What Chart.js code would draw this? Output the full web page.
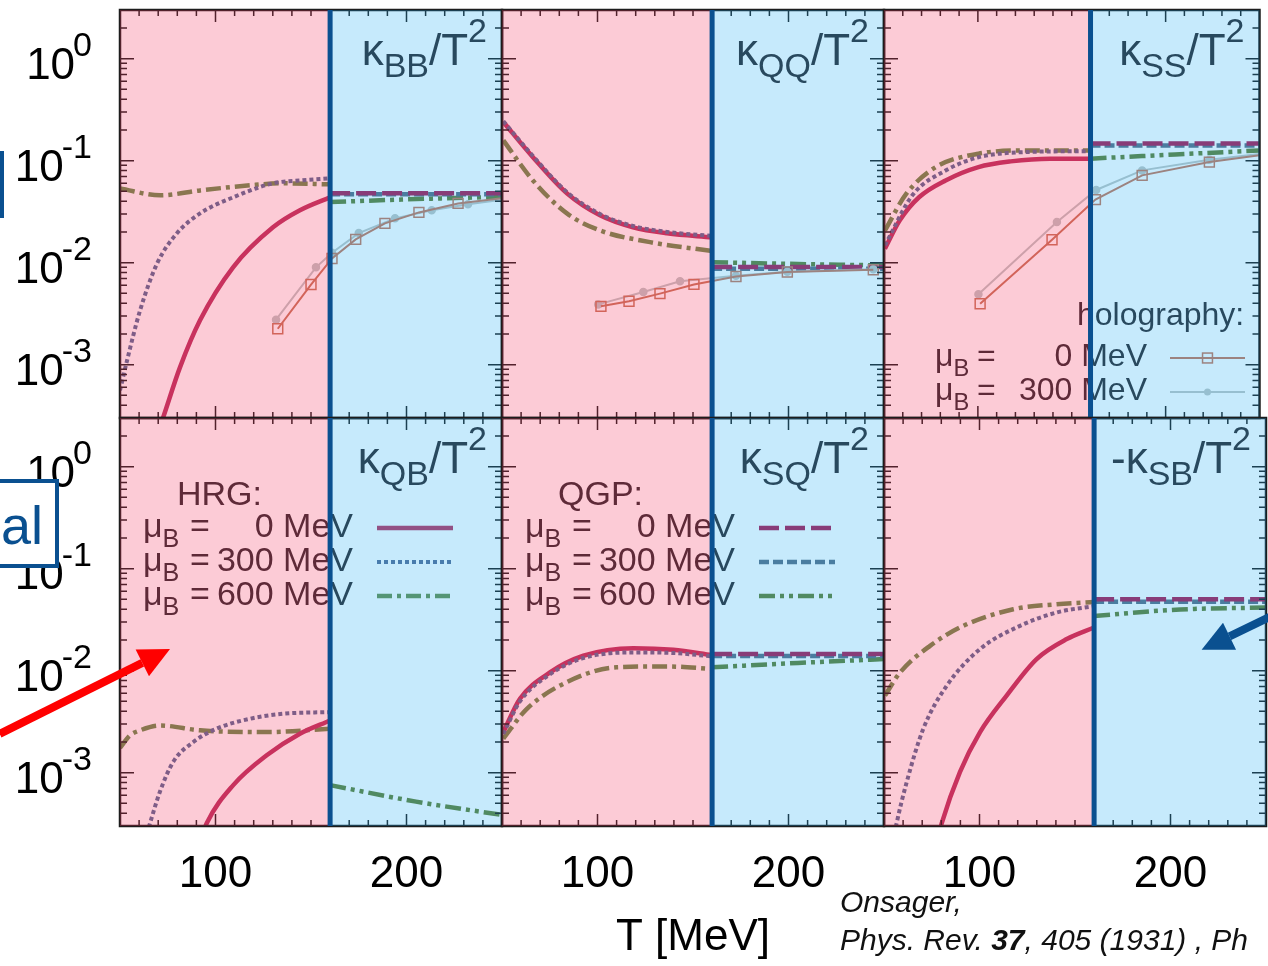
<!DOCTYPE html>
<html>
<head>
<meta charset="utf-8">
<script src="https://cdn.jsdelivr.net/npm/chart.js@4.4.0/dist/chart.umd.min.js"></script>
<style>
  body { margin: 0; background: #fff; }
  #wrap { position: relative; width: 1268px; height: 966px; overflow: hidden; }
  #wrap canvas { position: absolute; left: 0; top: 0; }
</style>
</head>
<body>
<div id="wrap"></div>
<script>
// axis ranges: T in MeV, susceptibilities on a log axis
const T_MIN = 50, T_MAX = 250, T_C = 160;
const Y_MIN = 3e-4, Y_MAX = 3;
const xTickLabels = [100, 200];
const yTickExps = [0, -1, -2, -3];

// kappa_BB / T^2
const bbHrg0 = [[70, 2.2e-4], [72.5, 3.0e-4], [81.4, 9.4e-4], [91.9, 2.72e-3], [109.2, 9.0e-3], [130.1, 0.0222], [144.2, 0.0326], [160, 0.0437]];
const bbHrg300 = [[50, 5.6e-4], [53.7, 1.1e-3], [60.5, 3.4e-3], [69.4, 9.8e-3], [79.8, 0.0194], [91.9, 0.0304], [109.2, 0.0437], [130.1, 0.060], [144.2, 0.064], [160, 0.067]];
const bbHrg600 = [[50, 0.0535], [71, 0.0457], [92, 0.0511], [118, 0.0573], [135, 0.060], [160, 0.0586]];
const bbQgp0 = [[160, 0.0479], [250, 0.0479]];
const bbQgp300 = [[160, 0.0468], [250, 0.0468]];
const bbQgp600 = [[160, 0.0393], [205, 0.042], [250, 0.0442]];
const bbHolo0 = [[132.6, 2.25e-3], [150, 6.1e-3], [161, 0.011], [173.4, 0.0169], [188.7, 0.0243], [206.5, 0.0311], [227, 0.0381], [250, 0.0427]];
const bbHolo300 = [[131.7, 2.76e-3], [152.6, 9.0e-3], [161, 0.0125], [175, 0.0195], [194, 0.0272], [213.2, 0.0326], [232.2, 0.0373], [250, 0.0415]];

// kappa_QQ / T^2
const qqHrg0 = [[50.7, 0.239], [66.2, 0.108], [84, 0.0478], [101.3, 0.0291], [118.6, 0.0222], [136.4, 0.0194], [160, 0.0177]];
const qqHrg300 = [[50.7, 0.243], [66.2, 0.111], [84, 0.0492], [101.3, 0.0300], [118.6, 0.0229], [136.4, 0.0200], [160, 0.0183]];
const qqHrg600 = [[50.7, 0.158], [66.2, 0.064], [84, 0.0304], [101.3, 0.0207], [127.5, 0.0159], [160, 0.013]];
const qqQgp0 = [[160, 9.06e-3], [250, 9.06e-3]];
const qqQgp300 = [[160, 8.7e-3], [250, 8.7e-3]];
const qqQgp600 = [[160, 0.0101], [205, 0.0097], [250, 0.0094]];
const qqHolo0 = [[101.8, 3.73e-3], [116.5, 4.18e-3], [132.7, 4.97e-3], [150.5, 6.12e-3], [172.5, 7.33e-3], [199.4, 8.09e-3], [244.4, 8.53e-3]];
const qqHolo300 = [[100.4, 3.9e-3], [124, 5.15e-3], [143.2, 6.56e-3], [172.5, 7.45e-3], [199.4, 8.15e-3], [244.4, 8.6e-3]];

// kappa_SS / T^2
const ssHrg0 = [[50.5, 0.0137], [58.4, 0.026], [68.8, 0.044], [82.8, 0.064], [100.3, 0.0865], [117.5, 0.0984], [138.5, 0.1047], [160, 0.1047]];
const ssHrg300 = [[50.5, 0.0148], [65.2, 0.046], [82.8, 0.080], [100.3, 0.108], [126.4, 0.1216], [160, 0.124]];
const ssHrg600 = [[50.5, 0.0207], [61.9, 0.0474], [77.6, 0.0865], [100.3, 0.117], [126.4, 0.126], [160, 0.126]];
const ssQgp0 = [[160, 0.147], [250, 0.147]];
const ssQgp300 = [[160, 0.141], [250, 0.141]];
const ssQgp600 = [[160, 0.1047], [205, 0.115], [250, 0.126]];
const ssHolo0 = [[101.2, 3.96e-3], [139.5, 0.0168], [162.6, 0.0415], [187.5, 0.0718], [223.3, 0.0968], [250, 0.113]];
const ssHolo300 = [[100.3, 4.89e-3], [142.1, 0.0251], [163, 0.0516], [187.5, 0.0803], [223.3, 0.102], [250, 0.116]];

// kappa_QB / T^2
const qbHrg0 = [[93, 2.4e-4], [95.4, 3.19e-4], [109.3, 7.55e-4], [126.8, 1.48e-3], [144.2, 2.41e-3], [160, 3.25e-3]];
const qbHrg300 = [[64, 2.5e-4], [65.7, 3.19e-4], [70.9, 6.5e-4], [77.9, 1.28e-3], [88.4, 2.0e-3], [100.6, 2.7e-3], [118.1, 3.38e-3], [135.5, 3.78e-3], [160, 3.93e-3]];
const qbHrg600 = [[50, 1.75e-3], [55, 2.3e-3], [60.5, 2.6e-3], [70.9, 2.9e-3], [91.9, 2.6e-3], [126.8, 2.5e-3], [160, 2.7e-3]];
const qbQgp600 = [[160, 7.55e-4], [205, 5.2e-4], [250, 3.85e-4]];

// kappa_SQ / T^2
const sqHrg0 = [[50.7, 2.5e-3], [59.4, 5.3e-3], [75.1, 9.6e-3], [92.6, 0.014], [118.8, 0.0166], [139.7, 0.016], [160, 0.0142]];
const sqHrg300 = [[50.7, 2.4e-3], [59.4, 5.0e-3], [75.1, 9.2e-3], [92.6, 0.0133], [118.8, 0.0151], [139.7, 0.0149], [160, 0.0138]];
const sqHrg600 = [[50.7, 2.16e-3], [62.9, 4.2e-3], [83.8, 7.7e-3], [110, 0.0108], [136.2, 0.011], [160, 0.0104]];
const sqQgp0 = [[160, 0.0146], [250, 0.0146]];
const sqQgp300 = [[160, 0.0139], [250, 0.0139]];
const sqQgp600 = [[160, 0.0108], [205, 0.0119], [250, 0.013]];

// -kappa_SB / T^2
const sbHrg0 = [[78.5, 2.4e-4], [80.2, 3.19e-4], [89.8, 1.02e-3], [100.3, 2.5e-3], [114.2, 5.7e-3], [129.9, 0.013], [145.7, 0.0204], [160, 0.0265]];
const sbHrg300 = [[55.5, 2.5e-4], [56.6, 3.19e-4], [61.9, 8.1e-4], [70.6, 2.7e-3], [82.8, 7.1e-3], [100.3, 0.0163], [121.2, 0.0275], [140.4, 0.0372], [160, 0.043]];
const sbHrg600 = [[50.5, 5.7e-3], [58.4, 9.6e-3], [74.1, 0.0175], [91.5, 0.0275], [117.7, 0.040], [140.4, 0.0448], [160, 0.0471]];
const sbQgp0 = [[160, 0.050], [250, 0.050]];
const sbQgp300 = [[160, 0.0475], [250, 0.0475]];
const sbQgp600 = [[160, 0.0344], [205, 0.0398], [250, 0.0416]];

const FONT = '"Liberation Sans", Arial, Helvetica, sans-serif';
const INK = 'rgb(45,40,45)';
const FRAME = 'rgb(28,28,28)';
// translucent phase bands, laid over curves and text
const HADRON_BAND = 'rgba(243,47,91,0.25)';
const PLASMA_BAND = 'rgba(27,171,243,0.25)';
const TC_BLUE = '#0a5090';

const STYLE = {
  hrg0:    { color: 'rgb(186,51,95)',  width: 4.5, dash: [] },
  hrg300:  { color: 'rgb(87,108,150)', width: 4,   dash: [4, 3] },
  hrg600:  { color: 'rgb(103,142,76)', width: 4.5, dash: [15, 5, 4, 5] },
  qgp0:    { color: 'rgb(172,23,79)',  width: 4.5, dash: [20, 6] },
  qgp300:  { color: 'rgb(90,110,132)', width: 4.5, dash: [10, 4] },
  qgp600:  { color: 'rgb(98,127,50)',  width: 4.5, dash: [16, 5, 4, 5, 4, 5] },
  holo0:   { color: 'rgb(199,118,90)', width: 2, point: 'rect', radius: 7 },
  holo300: { color: 'rgb(192,198,196)', width: 2, point: 'circle', radius: 3.5 },
};
// first entry ends up on top
const DRAW_ORDER = ['holo0', 'holo300', 'hrg300', 'hrg0', 'hrg600', 'qgp0', 'qgp300', 'qgp600'];

const PANELS = [
  { sign: '', sub: 'BB', left: 120, top: 10, right: 502, bottom: 418, yLabels: true,
    series: { hrg0: bbHrg0, hrg300: bbHrg300, hrg600: bbHrg600, qgp0: bbQgp0, qgp300: bbQgp300, qgp600: bbQgp600, holo0: bbHolo0, holo300: bbHolo300 },
    extra: leftBoxEdge },
  { sign: '', sub: 'QQ', left: 502, top: 10, right: 884, bottom: 418,
    series: { hrg0: qqHrg0, hrg300: qqHrg300, hrg600: qqHrg600, qgp0: qqQgp0, qgp300: qqQgp300, qgp600: qqQgp600, holo0: qqHolo0, holo300: qqHolo300 } },
  { sign: '', sub: 'SS', left: 884, top: 10, right: 1266, bottom: 418,
    series: { hrg0: ssHrg0, hrg300: ssHrg300, hrg600: ssHrg600, qgp0: ssQgp0, qgp300: ssQgp300, qgp600: ssQgp600, holo0: ssHolo0, holo300: ssHolo300 },
    legend: holoLegend },
  { sign: '', sub: 'QB', left: 120, top: 418, right: 502, bottom: 826, yLabels: true, xLabels: true,
    series: { hrg0: qbHrg0, hrg300: qbHrg300, hrg600: qbHrg600, qgp600: qbQgp600 },
    legend: (ctx, a) => phaseLegend(ctx, a, 'HRG:', 57, ['hrg0', 'hrg300', 'hrg600']),
    extra: redArrowAndBox },
  { sign: '', sub: 'SQ', left: 502, top: 418, right: 884, bottom: 826, xLabels: true,
    series: { hrg0: sqHrg0, hrg300: sqHrg300, hrg600: sqHrg600, qgp0: sqQgp0, qgp300: sqQgp300, qgp600: sqQgp600 },
    legend: (ctx, a) => phaseLegend(ctx, a, 'QGP:', 56, ['qgp0', 'qgp300', 'qgp600']),
    extra: axisTitle },
  { sign: '-', sub: 'SB', left: 884, top: 418, right: 1266, bottom: 826, xLabels: true,
    series: { hrg0: sbHrg0, hrg300: sbHrg300, hrg600: sbHrg600, qgp0: sbQgp0, qgp300: sbQgp300, qgp600: sbQgp600 },
    extra: blueArrowAndCitation },
];

const MU_ROWS = ['0 MeV', '300 MeV', '600 MeV'];

// text made of runs: [text, size, dy, style]
function rich(ctx, parts, x, y, align) {
  let w = 0;
  for (const [t, s, , st] of parts) { ctx.font = `${st || ''} ${s}px ${FONT}`; w += ctx.measureText(t).width; }
  let cx = align === 'right' ? x - w : align === 'center' ? x - w / 2 : x;
  ctx.textAlign = 'left';
  ctx.textBaseline = 'alphabetic';
  for (const [t, s, dy, st] of parts) {
    ctx.font = `${st || ''} ${s}px ${FONT}`;
    ctx.fillText(t, cx, y + (dy || 0));
    cx += ctx.measureText(t).width;
  }
}

function strokeSample(ctx, key, x0, x1, y) {
  const s = STYLE[key];
  ctx.save();
  ctx.strokeStyle = s.color;
  ctx.lineWidth = s.width;
  ctx.lineCap = 'butt';
  ctx.setLineDash(s.dash || []);
  ctx.beginPath(); ctx.moveTo(x0, y); ctx.lineTo(x1, y); ctx.stroke();
  ctx.setLineDash([]);
  if (s.point) {
    const xm = (x0 + x1) / 2;
    ctx.lineWidth = 1.5;
    if (s.point === 'rect') {
      const h = s.radius * Math.SQRT1_2;
      ctx.strokeRect(xm - h, y - h, 2 * h, 2 * h);
    } else {
      ctx.fillStyle = s.color;
      ctx.beginPath(); ctx.arc(xm, y, s.radius, 0, Math.PI * 2); ctx.fill();
    }
  }
  ctx.restore();
}

function muRow(ctx, a, dxMu, dxEq, dxVal, y, value, size) {
  ctx.fillStyle = INK;
  rich(ctx, [['μ', size, 0], ['B', size * 0.74, 10]], a.left + dxMu, y);
  rich(ctx, [['=', size, 0]], a.left + dxEq, y);
  rich(ctx, [[value, size, 0]], a.left + dxVal, y, 'right');
}

function phaseLegend(ctx, a, head, dxHead, keys) {
  ctx.fillStyle = INK;
  rich(ctx, [[head, 34, 0]], a.left + dxHead, a.top + 87);
  const rows = [119, 153, 187];
  keys.forEach((k, i) => {
    muRow(ctx, a, 23, 70, 233, a.top + rows[i], MU_ROWS[i], 34);
    strokeSample(ctx, k, a.left + 257, a.left + 333, a.top + rows[i] - 9);
  });
}

function holoLegend(ctx, a) {
  ctx.fillStyle = INK;
  rich(ctx, [['holography:', 32, 0]], a.left + 193, a.top + 315);
  const rows = [356, 390];
  ['holo0', 'holo300'].forEach((k, i) => {
    muRow(ctx, a, 51, 93, 263, a.top + rows[i], MU_ROWS[i], 32);
    strokeSample(ctx, k, a.left + 286, a.left + 361, a.top + rows[i] - 8);
  });
}

function arrow(ctx, x0, y0, x1, y1, color, lw, headLen, headHalf) {
  const ang = Math.atan2(y1 - y0, x1 - x0);
  const bx = x1 - headLen * Math.cos(ang), by = y1 - headLen * Math.sin(ang);
  ctx.strokeStyle = color; ctx.fillStyle = color;
  ctx.lineWidth = lw; ctx.lineCap = 'butt'; ctx.setLineDash([]);
  ctx.beginPath(); ctx.moveTo(x0, y0); ctx.lineTo(bx, by); ctx.stroke();
  ctx.beginPath();
  ctx.moveTo(x1, y1);
  ctx.lineTo(bx + headHalf * Math.sin(ang), by - headHalf * Math.cos(ang));
  ctx.lineTo(bx - headHalf * Math.sin(ang), by + headHalf * Math.cos(ang));
  ctx.closePath(); ctx.fill();
}

function leftBoxEdge(ctx) {
  ctx.strokeStyle = TC_BLUE; ctx.lineWidth = 4;
  ctx.strokeRect(-60, 153, 62, 63);
}

function redArrowAndBox(ctx, a, xs, ys) {
  arrow(ctx, xs.getPixelForValue(-13), ys.getPixelForValue(0.0024),
        xs.getPixelForValue(76.2), ys.getPixelForValue(0.0163), '#ff0000', 8, 31, 15);
  ctx.fillStyle = '#fff';
  ctx.fillRect(-20, 481, 77, 85);
  ctx.strokeStyle = TC_BLUE; ctx.lineWidth = 4;
  ctx.strokeRect(-20, 481, 77, 85);
  ctx.fillStyle = TC_BLUE;
  rich(ctx, [['al', 54, 0]], 1, 544);
}

function axisTitle(ctx, a) {
  ctx.fillStyle = '#000';
  rich(ctx, [['T [MeV]', 44, 0]], (a.left + a.right) / 2, a.bottom + 124, 'center');
}

function blueArrowAndCitation(ctx, a, xs, ys) {
  arrow(ctx, xs.getPixelForValue(262.6), ys.getPixelForValue(0.042),
        xs.getPixelForValue(216.3), ys.getPixelForValue(0.016), TC_BLUE, 8, 31, 15);
  ctx.fillStyle = '#111';
  rich(ctx, [['Onsager,', 30, 0, 'italic']], a.left - 44, a.bottom + 86);
  rich(ctx, [['Phys. Rev. ', 30, 0, 'italic'], ['37', 30, 0, 'italic bold'],
             [', 405 (1931) , Ph', 30, 0, 'italic']], a.left - 44, a.bottom + 124);
}

function drawTicks(ctx, a, xs, ys) {
  ctx.strokeStyle = FRAME; ctx.lineWidth = 1.5; ctx.setLineDash([]);
  ctx.beginPath();
  for (let t = T_MIN + 10; t < T_MAX; t += 10) {
    const px = xs.getPixelForValue(t), len = t % 100 === 0 ? 12 : 6;
    ctx.moveTo(px, a.top); ctx.lineTo(px, a.top + len);
    ctx.moveTo(px, a.bottom); ctx.lineTo(px, a.bottom - len);
  }
  for (let e = -4; e <= 0; e++) {
    for (let m = 1; m <= 9; m++) {
      const v = m * Math.pow(10, e);
      if (v < Y_MIN || v > Y_MAX) continue;
      const py = ys.getPixelForValue(v), len = m === 1 ? 14 : 7;
      ctx.moveTo(a.left, py); ctx.lineTo(a.left + len, py);
      ctx.moveTo(a.right, py); ctx.lineTo(a.right - len, py);
    }
  }
  ctx.stroke();
  ctx.lineWidth = 2.5;
  ctx.strokeRect(a.left, a.top, a.right - a.left, a.bottom - a.top);
}

function decor(p) {
  return {
    id: 'panelDecor',
    afterDatasetsDraw(chart) {
      const ctx = chart.ctx, a = chart.chartArea;
      const xs = chart.scales.x, ys = chart.scales.y;
      ctx.save();

      // panel title, e.g. kappa_BB/T^2
      ctx.fillStyle = INK;
      const title = [];
      if (p.sign) title.push([p.sign, 44, 0]);
      title.push(['κ', 44, 0], [p.sub, 34, 12], ['/T', 44, 0], ['2', 34, -23]);
      rich(ctx, title, a.right - 15, a.top + 55, 'right');

      if (p.legend) p.legend(ctx, a, xs, ys);
      drawTicks(ctx, a, xs, ys);

      // hadronic and plasma bands split at T_c
      const xc = xs.getPixelForValue(T_C);
      ctx.fillStyle = HADRON_BAND;
      ctx.fillRect(a.left, a.top, xc - a.left, a.bottom - a.top);
      ctx.fillStyle = PLASMA_BAND;
      ctx.fillRect(xc, a.top, a.right - xc, a.bottom - a.top);

      ctx.strokeStyle = TC_BLUE; ctx.lineWidth = 5; ctx.setLineDash([]);
      ctx.beginPath(); ctx.moveTo(xc, a.top); ctx.lineTo(xc, a.bottom); ctx.stroke();

      ctx.fillStyle = '#000';
      if (p.yLabels) {
        for (const e of yTickExps) {
          const py = ys.getPixelForValue(Math.pow(10, e));
          const sup = String(e);
          ctx.font = `34px ${FONT}`;
          const supW = ctx.measureText(sup).width;
          const xr = a.left - 28;
          rich(ctx, [[sup, 34, 0]], xr, py - 3, 'right');
          rich(ctx, [['10', 44, 0]], xr - supW + 2, py + 20, 'right');
        }
      }
      if (p.xLabels) {
        for (const t of xTickLabels) {
          rich(ctx, [[String(t), 44, 0]], xs.getPixelForValue(t), a.bottom + 61, 'center');
        }
      }
      if (p.extra) p.extra(ctx, a, xs, ys);
      ctx.restore();
    }
  };
}

function toDataset(key, pts) {
  const s = STYLE[key];
  const holo = !!s.point;
  return {
    data: pts.map(([x, y]) => ({ x, y })),
    borderColor: s.color,
    borderWidth: s.width,
    borderDash: s.dash || [],
    borderCapStyle: 'butt',
    fill: false,
    tension: 0,
    cubicInterpolationMode: holo ? 'default' : 'monotone',
    pointStyle: s.point || 'circle',
    pointRadius: holo ? (c => (c.raw && c.raw.x >= T_MAX ? 0 : s.radius)) : 0,
    pointBorderColor: s.color,
    pointBackgroundColor: s.point === 'rect' ? 'rgba(0,0,0,0)' : s.color,
    pointBorderWidth: 1.5,
  };
}

const wrap = document.getElementById('wrap');
for (const p of PANELS) {
  const canvas = document.createElement('canvas');
  canvas.width = 1268; canvas.height = 966;
  canvas.style.width = '1268px'; canvas.style.height = '966px';
  wrap.appendChild(canvas);
  const datasets = DRAW_ORDER.filter(k => p.series[k]).map(k => toDataset(k, p.series[k]));
  new Chart(canvas, {
    type: 'line',
    data: { datasets },
    options: {
      responsive: false,
      animation: false,
      devicePixelRatio: 1,
      events: [],
      layout: { padding: { left: p.left, top: p.top, right: 1268 - p.right, bottom: 966 - p.bottom } },
      scales: {
        x: { type: 'linear', min: T_MIN, max: T_MAX, display: false },
        y: { type: 'logarithmic', min: Y_MIN, max: Y_MAX, display: false },
      },
      plugins: { legend: { display: false }, tooltip: { enabled: false } },
    },
    plugins: [decor(p)],
  });
}
</script>
</body>
</html>
